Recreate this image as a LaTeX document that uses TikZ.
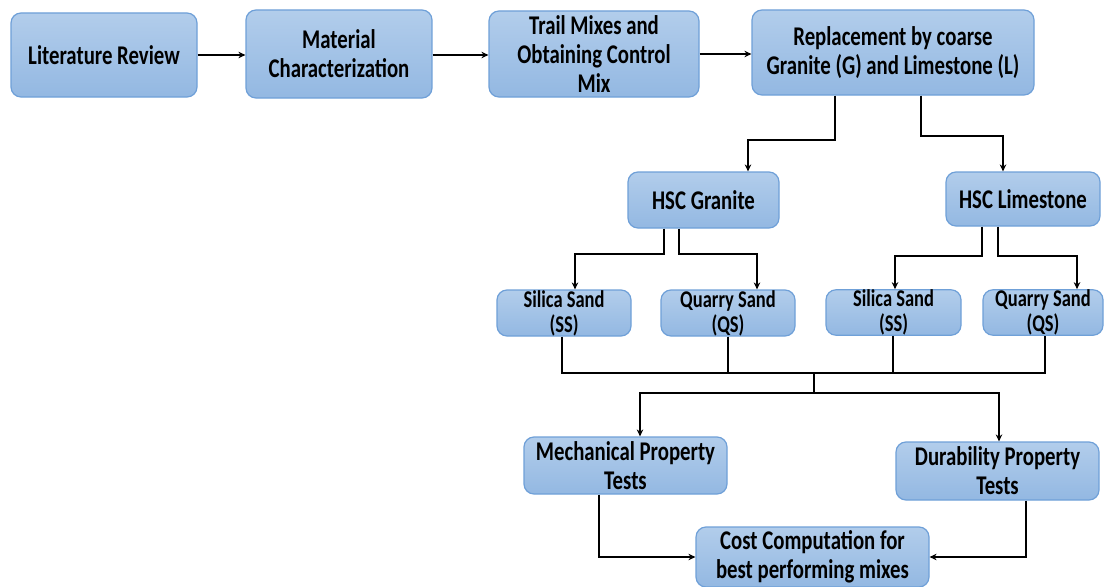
\documentclass[tikz,border=0pt]{standalone}
\usepackage{fontspec}
\setmainfont{Carlito}[FakeStretch=0.77]
\usetikzlibrary{arrows.meta}
\definecolor{boxtop}{HTML}{B2CDEB}
\definecolor{boxbot}{HTML}{93B8E2}
\definecolor{boxline}{HTML}{6FA0D8}
\tikzset{
  box/.style={draw=boxline, line width=1.2pt, rounded corners=10pt, top color=boxtop, bottom color=boxbot,
    align=center, inner sep=0pt, font=\bfseries\fontsize{27}{29}\selectfont},
  sbox/.style={box, font=\bfseries\fontsize{24}{25}\selectfont},
  conn/.style={line width=1.8pt, black},
  arr/.style={conn, -{Stealth[length=7pt,width=6.5pt]}}
}
\begin{document}
\begin{tikzpicture}[x=1pt,y=-1pt]
\useasboundingbox (0,0) rectangle (1105,586);
\fill[white] (0,0) rectangle (1105,586);
\node[box, minimum width=186pt, minimum height=84pt] (lit) at (104,55) {Literature Review};
\node[box, minimum width=186pt, minimum height=88pt] (mat) at (339,54) {Material\\Characterization};
\node[box, minimum width=210pt, minimum height=86pt] (trail) at (594,54) {Trail Mixes and\\Obtaining Control\\Mix};
\node[box, minimum width=282pt, minimum height=85pt] (rep) at (893,52.5) {Replacement by coarse\\Granite (G) and Limestone (L)};
\node[box, minimum width=151pt, minimum height=56pt] (hscg) at (703.5,200) {HSC Granite};
\node[box, minimum width=154pt, minimum height=54pt] (hscl) at (1023,199) {HSC Limestone};
\node[sbox, minimum width=134pt, minimum height=46pt] (ss1) at (564,313) {Silica Sand\\(SS)};
\node[sbox, minimum width=134pt, minimum height=46pt] (qs1) at (728,313) {Quarry Sand\\(QS)};
\node[sbox, minimum width=135pt, minimum height=45pt] (ss2) at (893.5,312.5) {Silica Sand\\(SS)};
\node[sbox, minimum width=120pt, minimum height=45pt] (qs2) at (1043,312.5) {Quarry Sand\\(QS)};
\node[box, minimum width=203pt, minimum height=57pt] (mech) at (625.5,465.5) {Mechanical Property\\Tests};
\node[box, minimum width=203pt, minimum height=58pt] (dur) at (997.5,471) {Durability Property\\Tests};
\node[box, minimum width=233pt, minimum height=60pt] (cost) at (812.5,557) {Cost Computation for\\best performing mixes};

\draw[arr] (lit.east) -- (lit.east -| mat.west);
\draw[arr] (mat.east |- lit.east) -- (lit.east -| trail.west);
\draw[arr] (trail.east) -- (trail.east -| rep.west);
\draw[arr] ([xshift=-58pt]rep.south) -- ++(0,44) -| ([xshift=44.5pt]hscg.north);
\draw[arr] ([xshift=28pt]rep.south) -- ++(0,40) -| ([xshift=-20pt]hscl.north);
\draw[arr] ([xshift=-39.5pt]hscg.south) -- ++(0,25) -| ([xshift=11pt]ss1.north);
\draw[arr] ([xshift=-24.5pt]hscg.south) -- ++(0,25) -| ([xshift=29pt]qs1.north);
\draw[arr] ([xshift=-41pt]hscl.south) -- ++(0,29) -| ([xshift=1.5pt]ss2.north);
\draw[arr] ([xshift=-25pt]hscl.south) -- ++(0,29) -| ([xshift=34pt]qs2.north);
\coordinate (busL) at (562,373);
\coordinate (busR) at (1045,373);
\coordinate (busM) at (814,373);
\coordinate (split) at (814,393);
\draw[conn] ([xshift=-2pt]ss1.south) -- (busL) -- (busR) -- ([xshift=2pt]qs2.south);
\draw[conn] (qs1.south) -- (qs1.south |- busL);
\draw[conn] ([xshift=-0.5pt]ss2.south) -- ([xshift=-0.5pt]ss2.south |- busL);
\draw[conn] (busM) -- (split);
\draw[arr] (split) -| ([xshift=14.5pt]mech.north);
\draw[arr] (split) -| ([xshift=1.5pt]dur.north);
\draw[arr] ([xshift=-26.5pt]mech.south) |- (cost.west);
\draw[arr] ([xshift=28.5pt]dur.south) |- (cost.east);
\end{tikzpicture}
\end{document}
